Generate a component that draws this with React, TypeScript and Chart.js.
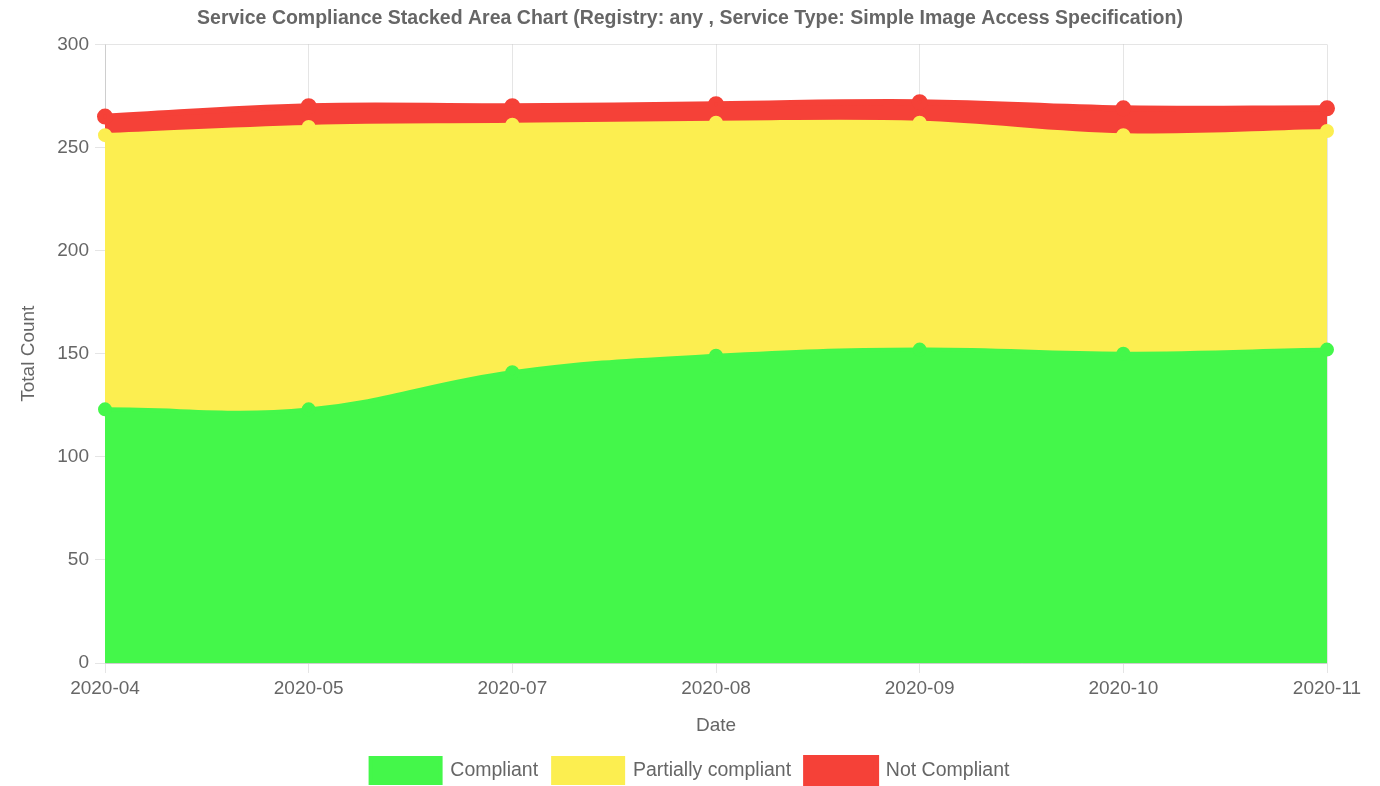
import React, { useEffect, useRef } from "react";
import { Chart, registerables } from "chart.js";

Chart.register(...registerables);

const dates = ["2020-04", "2020-05", "2020-07", "2020-08", "2020-09", "2020-10", "2020-11"];
const compliant = [123, 123, 141, 149, 152, 150, 152];
const partiallyCompliant = [133, 137, 120, 113, 110, 106, 106];
const notCompliant = [9, 10, 9, 9, 10, 13, 11];
const yTicks = [0, 50, 100, 150, 200, 250, 300];

const GREEN = "rgb(68,247,74)";
const YELLOW = "rgb(252,238,80)";
const RED = "rgb(245,65,56)";

export default function App() {
  const ref = useRef<HTMLCanvasElement | null>(null);
  useEffect(() => {
    document.body.style.margin = "0";
    document.body.style.overflow = "hidden";
    const font = "'Liberation Sans', Arial, Helvetica, sans-serif";
    Chart.defaults.font.family = font;
    Chart.defaults.color = "#666";
    const chart = new Chart(ref.current!, {
      type: "line",
      data: {
        labels: dates,
        datasets: [
          {
            label: "Compliant",
            data: compliant,
            backgroundColor: GREEN,
            borderColor: GREEN,
            pointBackgroundColor: GREEN,
            fill: "origin",
            borderWidth: 4,
            pointRadius: 5,
            tension: 0.4,
          },
          {
            label: "Partially compliant",
            data: partiallyCompliant,
            backgroundColor: YELLOW,
            borderColor: YELLOW,
            pointBackgroundColor: YELLOW,
            fill: "-1",
            borderWidth: 4,
            pointRadius: 5,
            tension: 0.4,
          },
          {
            label: "Not Compliant",
            data: notCompliant,
            backgroundColor: RED,
            borderColor: RED,
            pointBackgroundColor: RED,
            fill: "-1",
            borderWidth: 6,
            pointRadius: 5,
            tension: 0.4,
          },
        ],
      },
      options: {
        animation: false,
        responsive: false,
        maintainAspectRatio: false,
        layout: { padding: { left: 0, right: 0, top: 0, bottom: -7 } },
        plugins: {
          title: {
            display: true,
            text: "Service Compliance Stacked Area Chart (Registry: any , Service Type: Simple Image Access Specification)",
            font: { size: 19.5, weight: "bold", family: font },
            color: "#666",
            padding: { top: 7, bottom: 14 },
          },
          legend: {
            position: "bottom",
            labels: {
              boxWidth: 70,
              boxHeight: 25,
              font: { size: 19.5, family: font },
              color: "#666",
              padding: 15,
            },
          },
          tooltip: { enabled: false },
        },
        scales: {
          x: {
            stacked: true,
            offset: false,
            grid: { color: "rgba(0,0,0,0.1)", tickLength: 10 },
            afterFit: (axis: any) => {
              axis.height = 80;
            },
            ticks: { font: { size: 19, family: font }, color: "#666", maxRotation: 0, padding: 4 },
            title: {
              display: true,
              text: "Date",
              font: { size: 19, family: font },
              color: "#666",
              padding: { top: 4, bottom: 6 },
            },
          },
          y: {
            stacked: true,
            min: 0,
            max: 300,
            grid: { color: "rgba(0,0,0,0.1)", tickLength: 10 },
            afterFit: (axis: any) => {
              axis.width = 105;
            },
            afterBuildTicks: (axis: any) => {
              axis.ticks = yTicks.map((v) => ({ value: v }));
            },
            ticks: { font: { size: 19, family: font }, color: "#666", padding: 6 },
            title: {
              display: true,
              text: "Total Count",
              font: { size: 19, family: font },
              color: "#666",
              padding: { top: 17, bottom: 4 },
            },
          },
          rightSpacer: {
            type: "linear",
            position: "right",
            display: true,
            min: 0,
            max: 1,
            grid: { display: false, drawOnChartArea: false, drawTicks: false },
            border: { display: false },
            ticks: { display: false },
            afterFit: (axis: any) => {
              axis.width = 53;
            },
          },
        },
      },
    });
    return () => chart.destroy();
  }, []);
  return (
    <div style={{ width: 1380, height: 786 }}>
      <canvas ref={ref} width={1380} height={786} style={{ display: "block" }} />
    </div>
  );
}
